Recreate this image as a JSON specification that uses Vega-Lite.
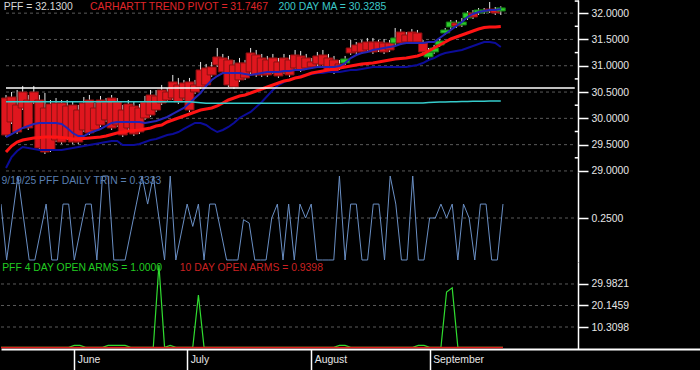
{
"$schema": "https://vega.github.io/schema/vega-lite/v6.json",
"background": "#000000",
"padding": 0,
"spacing": 0,
"bounds": "flush",
"config": {"view": {"stroke": null}, "axis": {"grid": false, "labelOverlap": false, "labelFlush": false, "domainColor": "#ffffff", "domainWidth": 1.5, "tickColor": "#ffffff", "tickWidth": 1.5, "labelColor": "#e6e6e6", "labelFont": "Liberation Sans", "labelFontSize": 10.4}},
"datasets": {"pff": [
{"i":0,"o":30.387,"h":30.444,"l":29.646,"c":29.684,"piv":29.36,"ma1":29.645,"ma2":29.056,"ma200":30.315,"trin":0.333,"a4":1,"a10":0.95},
{"i":1,"o":30.406,"h":30.501,"l":29.893,"c":29.931,"piv":29.474,"ma1":29.702,"ma2":29.265,"ma200":30.315,"trin":0,"a4":1,"a10":0.95},
{"i":2,"o":30.254,"h":30.539,"l":29.703,"c":29.741,"piv":29.55,"ma1":29.76,"ma2":29.379,"ma200":30.315,"trin":0.25,"a4":1,"a10":0.95},
{"i":3,"o":30.501,"h":30.616,"l":30.159,"c":30.197,"piv":29.588,"ma1":29.817,"ma2":29.455,"ma200":30.315,"trin":0.5,"a4":1,"a10":0.95},
{"i":4,"o":30.349,"h":30.444,"l":29.779,"c":29.817,"piv":29.607,"ma1":29.855,"ma2":29.436,"ma200":30.315,"trin":0.25,"a4":1,"a10":0.95},
{"i":5,"o":30.501,"h":30.616,"l":30.273,"c":30.311,"piv":29.626,"ma1":29.893,"ma2":29.417,"ma200":30.315,"trin":0,"a4":1,"a10":0.95},
{"i":6,"o":30.349,"h":30.444,"l":29.398,"c":29.436,"piv":29.636,"ma1":29.912,"ma2":29.398,"ma200":30.315,"trin":0,"a4":1,"a10":0.95},
{"i":7,"o":30.197,"h":30.482,"l":29.322,"c":29.36,"piv":29.645,"ma1":29.912,"ma2":29.398,"ma200":30.315,"trin":0.167,"a4":1,"a10":0.95},
{"i":8,"o":30.273,"h":30.349,"l":29.36,"c":29.398,"piv":29.645,"ma1":29.912,"ma2":29.398,"ma200":30.315,"trin":0.333,"a4":1,"a10":0.95},
{"i":9,"o":30.292,"h":30.387,"l":29.55,"c":29.588,"piv":29.645,"ma1":29.912,"ma2":29.398,"ma200":30.315,"trin":0,"a4":1,"a10":0.95},
{"i":10,"o":30.292,"h":30.349,"l":29.512,"c":29.55,"piv":29.636,"ma1":29.893,"ma2":29.398,"ma200":30.315,"trin":0,"a4":1,"a10":0.95},
{"i":11,"o":30.235,"h":30.349,"l":29.588,"c":29.626,"piv":29.626,"ma1":29.817,"ma2":29.417,"ma200":30.315,"trin":0.333,"a4":1,"a10":0.95},
{"i":12,"o":30.254,"h":30.311,"l":29.512,"c":29.55,"piv":29.607,"ma1":29.721,"ma2":29.436,"ma200":30.315,"trin":0.333,"a4":1,"a10":0.95},
{"i":13,"o":30.159,"h":30.254,"l":29.512,"c":29.55,"piv":29.607,"ma1":29.664,"ma2":29.455,"ma200":30.315,"trin":0,"a4":1.9,"a10":0.95},
{"i":14,"o":30.292,"h":30.406,"l":29.741,"c":29.779,"piv":29.617,"ma1":29.664,"ma2":29.474,"ma200":30.315,"trin":0.167,"a4":1.9,"a10":0.95},
{"i":15,"o":30.349,"h":30.444,"l":29.684,"c":29.722,"piv":29.626,"ma1":29.721,"ma2":29.493,"ma200":30.315,"trin":0.333,"a4":1,"a10":0.95},
{"i":16,"o":30.197,"h":30.292,"l":29.741,"c":29.779,"piv":29.636,"ma1":29.76,"ma2":29.512,"ma200":30.315,"trin":0.333,"a4":1,"a10":0.95},
{"i":17,"o":30.349,"h":30.425,"l":29.836,"c":29.874,"piv":29.645,"ma1":29.798,"ma2":29.531,"ma200":30.315,"trin":0,"a4":1,"a10":0.95},
{"i":18,"o":30.311,"h":30.387,"l":29.931,"c":29.969,"piv":29.664,"ma1":29.855,"ma2":29.55,"ma200":30.315,"trin":0.5,"a4":1,"a10":0.95},
{"i":19,"o":30.387,"h":30.444,"l":29.779,"c":29.817,"piv":29.693,"ma1":29.912,"ma2":29.569,"ma200":30.315,"trin":0.5,"a4":1.9,"a10":0.95},
{"i":20,"o":30.311,"h":30.387,"l":29.836,"c":29.874,"piv":29.721,"ma1":29.931,"ma2":29.569,"ma200":30.315,"trin":0,"a4":1.9,"a10":0.95},
{"i":21,"o":30.159,"h":30.254,"l":29.646,"c":29.684,"piv":29.74,"ma1":29.931,"ma2":29.493,"ma200":30.315,"trin":0,"a4":1.9,"a10":0.95},
{"i":22,"o":30.273,"h":30.349,"l":29.779,"c":29.817,"piv":29.76,"ma1":29.931,"ma2":29.493,"ma200":30.315,"trin":0,"a4":1.9,"a10":0.95},
{"i":23,"o":30.235,"h":30.33,"l":29.665,"c":29.703,"piv":29.769,"ma1":29.931,"ma2":29.493,"ma200":30.315,"trin":0.167,"a4":1,"a10":0.95},
{"i":24,"o":30.197,"h":30.273,"l":29.703,"c":29.741,"piv":29.779,"ma1":29.931,"ma2":29.512,"ma200":30.315,"trin":0.333,"a4":1,"a10":0.95},
{"i":25,"o":30.311,"h":30.425,"l":29.969,"c":30.007,"piv":29.798,"ma1":29.912,"ma2":29.55,"ma200":30.315,"trin":0.5,"a4":1,"a10":0.95},
{"i":26,"o":30.444,"h":30.539,"l":30.026,"c":30.064,"piv":29.817,"ma1":29.931,"ma2":29.588,"ma200":30.315,"trin":0.333,"a4":1,"a10":0.95},
{"i":27,"o":30.425,"h":30.539,"l":30.121,"c":30.159,"piv":29.855,"ma1":29.95,"ma2":29.607,"ma200":30.315,"trin":0.5,"a4":1,"a10":0.95},
{"i":28,"o":30.539,"h":30.635,"l":30.254,"c":30.292,"piv":29.874,"ma1":29.988,"ma2":29.645,"ma200":30.315,"trin":0.25,"a4":38.7,"a10":0.95},
{"i":29,"o":30.501,"h":30.578,"l":30.311,"c":30.349,"piv":29.931,"ma1":30.026,"ma2":29.683,"ma200":30.315,"trin":0,"a4":1,"a10":0.95},
{"i":30,"o":30.692,"h":30.825,"l":30.349,"c":30.387,"piv":29.969,"ma1":30.083,"ma2":29.702,"ma200":30.315,"trin":0.5,"a4":1.9,"a10":0.95},
{"i":31,"o":30.635,"h":30.768,"l":30.273,"c":30.311,"piv":30.007,"ma1":30.14,"ma2":29.74,"ma200":30.315,"trin":0,"a4":1,"a10":0.95},
{"i":32,"o":30.673,"h":30.73,"l":30.349,"c":30.387,"piv":30.045,"ma1":30.197,"ma2":29.798,"ma200":30.315,"trin":0.167,"a4":1,"a10":0.95},
{"i":33,"o":30.692,"h":30.768,"l":30.121,"c":30.159,"piv":30.083,"ma1":30.292,"ma2":29.855,"ma200":30.315,"trin":0.333,"a4":1,"a10":0.95},
{"i":34,"o":30.635,"h":30.73,"l":30.463,"c":30.501,"piv":30.121,"ma1":30.387,"ma2":29.912,"ma200":30.305,"trin":0.2,"a4":1,"a10":0.95},
{"i":35,"o":30.92,"h":31.072,"l":30.558,"c":30.597,"piv":30.159,"ma1":30.482,"ma2":29.912,"ma200":30.295,"trin":0.333,"a4":24.95,"a10":0.95},
{"i":36,"o":30.958,"h":31.034,"l":30.597,"c":30.635,"piv":30.178,"ma1":30.615,"ma2":29.874,"ma200":30.285,"trin":0,"a4":1,"a10":0.95},
{"i":37,"o":30.977,"h":31.072,"l":30.787,"c":30.825,"piv":30.197,"ma1":30.729,"ma2":29.798,"ma200":30.285,"trin":0.333,"a4":1,"a10":0.95},
{"i":38,"o":31.167,"h":31.338,"l":30.977,"c":31.015,"piv":30.235,"ma1":30.805,"ma2":29.74,"ma200":30.285,"trin":0.333,"a4":1,"a10":0.95},
{"i":39,"o":31.148,"h":31.224,"l":30.844,"c":30.882,"piv":30.292,"ma1":30.862,"ma2":29.779,"ma200":30.285,"trin":0.167,"a4":1,"a10":0.95},
{"i":40,"o":31.11,"h":31.186,"l":30.597,"c":30.635,"piv":30.349,"ma1":30.862,"ma2":29.836,"ma200":30.285,"trin":0,"a4":1,"a10":0.95},
{"i":41,"o":31.015,"h":31.11,"l":30.558,"c":30.597,"piv":30.387,"ma1":30.862,"ma2":29.912,"ma200":30.285,"trin":0,"a4":1,"a10":0.95},
{"i":42,"o":31.053,"h":31.148,"l":30.692,"c":30.73,"piv":30.425,"ma1":30.862,"ma2":30.007,"ma200":30.285,"trin":0,"a4":1,"a10":0.95},
{"i":43,"o":31.053,"h":31.11,"l":30.73,"c":30.768,"piv":30.444,"ma1":30.843,"ma2":30.064,"ma200":30.285,"trin":0.24,"a4":1,"a10":0.95},
{"i":44,"o":31.243,"h":31.338,"l":30.844,"c":30.882,"piv":30.482,"ma1":30.824,"ma2":30.121,"ma200":30.285,"trin":0.22,"a4":1,"a10":0.95},
{"i":45,"o":31.205,"h":31.3,"l":30.787,"c":30.825,"piv":30.52,"ma1":30.843,"ma2":30.216,"ma200":30.285,"trin":0,"a4":1,"a10":0.95},
{"i":46,"o":31.148,"h":31.224,"l":30.787,"c":30.825,"piv":30.558,"ma1":30.862,"ma2":30.311,"ma200":30.285,"trin":0,"a4":1,"a10":0.95},
{"i":47,"o":31.11,"h":31.186,"l":30.787,"c":30.825,"piv":30.596,"ma1":30.881,"ma2":30.425,"ma200":30.285,"trin":0,"a4":1,"a10":0.95},
{"i":48,"o":31.148,"h":31.224,"l":30.844,"c":30.882,"piv":30.634,"ma1":30.881,"ma2":30.539,"ma200":30.285,"trin":0.25,"a4":1,"a10":0.95},
{"i":49,"o":31.072,"h":31.148,"l":30.768,"c":30.806,"piv":30.672,"ma1":30.881,"ma2":30.634,"ma200":30.285,"trin":0.333,"a4":1,"a10":0.95},
{"i":50,"o":31.148,"h":31.224,"l":30.844,"c":30.882,"piv":30.71,"ma1":30.9,"ma2":30.691,"ma200":30.285,"trin":0,"a4":1,"a10":0.95},
{"i":51,"o":31.11,"h":31.205,"l":30.787,"c":30.825,"piv":30.729,"ma1":30.9,"ma2":30.729,"ma200":30.285,"trin":0.333,"a4":1,"a10":0.95},
{"i":52,"o":31.205,"h":31.3,"l":30.92,"c":30.958,"piv":30.767,"ma1":30.919,"ma2":30.767,"ma200":30.285,"trin":0,"a4":1,"a10":0.95},
{"i":53,"o":31.186,"h":31.281,"l":30.882,"c":30.92,"piv":30.786,"ma1":30.919,"ma2":30.805,"ma200":30.285,"trin":0.333,"a4":1,"a10":0.95},
{"i":54,"o":31.148,"h":31.224,"l":30.92,"c":30.958,"piv":30.824,"ma1":30.938,"ma2":30.824,"ma200":30.285,"trin":0.25,"a4":1,"a10":0.95},
{"i":55,"o":31.072,"h":31.148,"l":30.939,"c":30.977,"piv":30.862,"ma1":30.957,"ma2":30.843,"ma200":30.285,"trin":0.333,"a4":1,"a10":0.95},
{"i":56,"o":31.186,"h":31.262,"l":30.996,"c":31.034,"piv":30.881,"ma1":30.976,"ma2":30.862,"ma200":30.285,"trin":0,"a4":1,"a10":0.95},
{"i":57,"o":31.205,"h":31.3,"l":30.977,"c":31.015,"piv":30.9,"ma1":30.976,"ma2":30.862,"ma200":30.285,"trin":0,"a4":1,"a10":0.95},
{"i":58,"o":31.148,"h":31.224,"l":30.882,"c":30.92,"piv":30.919,"ma1":30.976,"ma2":30.881,"ma200":30.285,"trin":0,"a4":1,"a10":0.95},
{"i":59,"o":31.11,"h":31.186,"l":30.844,"c":30.882,"piv":30.938,"ma1":30.976,"ma2":30.881,"ma200":30.285,"trin":0,"a4":1,"a10":0.95},
{"i":60,"o":31.034,"h":31.11,"l":30.92,"c":30.958,"piv":30.957,"ma1":30.995,"ma2":30.881,"ma200":30.285,"trin":0.5,"a4":1.9,"a10":0.95},
{"i":61,"o":31.053,"h":31.186,"l":31.015,"c":31.129,"piv":30.976,"ma1":31.052,"ma2":30.9,"ma200":30.29,"trin":0,"a4":1.9,"a10":0.95},
{"i":62,"o":31.338,"h":31.49,"l":31.205,"c":31.243,"piv":30.995,"ma1":31.147,"ma2":30.919,"ma200":30.29,"trin":0.333,"a4":1,"a10":0.95},
{"i":63,"o":31.395,"h":31.452,"l":31.224,"c":31.262,"piv":31.014,"ma1":31.204,"ma2":30.919,"ma200":30.29,"trin":0.333,"a4":1,"a10":0.95},
{"i":64,"o":31.433,"h":31.49,"l":31.224,"c":31.262,"piv":31.033,"ma1":31.242,"ma2":30.938,"ma200":30.29,"trin":0,"a4":1,"a10":0.95},
{"i":65,"o":31.452,"h":31.528,"l":31.262,"c":31.3,"piv":31.043,"ma1":31.261,"ma2":30.957,"ma200":30.29,"trin":0,"a4":1,"a10":0.95},
{"i":66,"o":31.452,"h":31.528,"l":31.224,"c":31.262,"piv":31.052,"ma1":31.299,"ma2":30.976,"ma200":30.29,"trin":0.333,"a4":1,"a10":0.95},
{"i":67,"o":31.452,"h":31.49,"l":31.262,"c":31.3,"piv":31.071,"ma1":31.318,"ma2":30.976,"ma200":30.29,"trin":0.333,"a4":1,"a10":0.95},
{"i":68,"o":31.433,"h":31.509,"l":31.224,"c":31.262,"piv":31.09,"ma1":31.337,"ma2":30.976,"ma200":30.29,"trin":0,"a4":1,"a10":0.95},
{"i":69,"o":31.433,"h":31.49,"l":31.262,"c":31.3,"piv":31.109,"ma1":31.356,"ma2":30.976,"ma200":30.29,"trin":0.5,"a4":1,"a10":0.95},
{"i":70,"o":31.433,"h":31.718,"l":31.395,"c":31.528,"piv":31.128,"ma1":31.375,"ma2":30.976,"ma200":30.29,"trin":0.333,"a4":1,"a10":0.95},
{"i":71,"o":31.642,"h":31.699,"l":31.395,"c":31.433,"piv":31.138,"ma1":31.413,"ma2":30.976,"ma200":30.29,"trin":0,"a4":1,"a10":0.95},
{"i":72,"o":31.585,"h":31.642,"l":31.414,"c":31.452,"piv":31.147,"ma1":31.432,"ma2":30.976,"ma200":30.29,"trin":0,"a4":1,"a10":0.95},
{"i":73,"o":31.642,"h":31.699,"l":31.414,"c":31.452,"piv":31.166,"ma1":31.432,"ma2":30.995,"ma200":30.29,"trin":0.5,"a4":1,"a10":0.95},
{"i":74,"o":31.623,"h":31.68,"l":31.414,"c":31.452,"piv":31.185,"ma1":31.432,"ma2":31.014,"ma200":30.29,"trin":0,"a4":1.9,"a10":0.95},
{"i":75,"o":31.433,"h":31.49,"l":31.224,"c":31.262,"piv":31.223,"ma1":31.432,"ma2":31.052,"ma200":30.29,"trin":0,"a4":1.9,"a10":0.95},
{"i":76,"o":31.167,"h":31.338,"l":31.11,"c":31.262,"piv":31.28,"ma1":31.452,"ma2":31.109,"ma200":30.3,"trin":0.25,"a4":1,"a10":0.95},
{"i":77,"o":31.262,"h":31.395,"l":31.224,"c":31.338,"piv":31.337,"ma1":31.452,"ma2":31.147,"ma200":30.305,"trin":0.25,"a4":1,"a10":0.95},
{"i":78,"o":31.395,"h":31.528,"l":31.357,"c":31.471,"piv":31.394,"ma1":31.528,"ma2":31.204,"ma200":30.31,"trin":0.333,"a4":1,"a10":0.95},
{"i":79,"o":31.623,"h":31.718,"l":31.585,"c":31.68,"piv":31.452,"ma1":31.604,"ma2":31.242,"ma200":30.31,"trin":0.25,"a4":26.3,"a10":0.95},
{"i":80,"o":31.737,"h":31.87,"l":31.699,"c":31.832,"piv":31.509,"ma1":31.68,"ma2":31.261,"ma200":30.315,"trin":0.333,"a4":28.2,"a10":0.95},
{"i":81,"o":31.813,"h":31.87,"l":31.718,"c":31.756,"piv":31.547,"ma1":31.756,"ma2":31.28,"ma200":30.315,"trin":0,"a4":1,"a10":0.95},
{"i":82,"o":31.775,"h":31.908,"l":31.737,"c":31.832,"piv":31.585,"ma1":31.832,"ma2":31.299,"ma200":30.32,"trin":0.333,"a4":1,"a10":0.95},
{"i":83,"o":31.908,"h":32.041,"l":31.87,"c":32.003,"piv":31.623,"ma1":31.927,"ma2":31.337,"ma200":30.32,"trin":0.25,"a4":1,"a10":0.95},
{"i":84,"o":32.003,"h":32.06,"l":31.889,"c":31.927,"piv":31.661,"ma1":31.984,"ma2":31.375,"ma200":30.325,"trin":0,"a4":1,"a10":0.95},
{"i":85,"o":32.003,"h":32.098,"l":31.965,"c":32.06,"piv":31.699,"ma1":32.022,"ma2":31.413,"ma200":30.325,"trin":0.333,"a4":1,"a10":0.95},
{"i":86,"o":32.022,"h":32.098,"l":31.984,"c":32.06,"piv":31.727,"ma1":32.041,"ma2":31.452,"ma200":30.327,"trin":0.333,"a4":1,"a10":0.95},
{"i":87,"o":32.079,"h":32.212,"l":32.003,"c":32.041,"piv":31.737,"ma1":32.06,"ma2":31.452,"ma200":30.328,"trin":0,"a4":1,"a10":0.95},
{"i":88,"o":32.06,"h":32.117,"l":31.965,"c":32.003,"piv":31.737,"ma1":32.06,"ma2":31.432,"ma200":30.328,"trin":0,"a4":1,"a10":0.95},
{"i":89,"o":32.041,"h":32.13,"l":31.965,"c":32.1,"piv":31.7467,"ma1":32.079,"ma2":31.356,"ma200":30.3285,"trin":0.3333,"a4":1,"a10":0.9398}
]},
"data": {"name": "pff"},
"vconcat": [
{
 "width": 700, "height": 172,
 "layer": [
  {"data": {"values": [{"g":29},{"g":29.5},{"g":30},{"g":30.5},{"g":31},{"g":31.5},{"g":32}]},
   "mark": {"type": "rule", "color": "#5a5a5a", "strokeDash": [3,3], "strokeWidth": 1},
   "encoding": {
    "x": {"datum": 0, "type": "quantitative", "scale": {"domain": [0,124.11], "nice": false, "zero": false}, "axis": null},
    "x2": {"datum": 102.3},
    "y": {"field": "g", "type": "quantitative", "scale": {"domain": [28.98,32.25], "nice": false, "zero": false},
      "axis": {"orient": "right", "offset": -123, "title": null, "values": [29,29.5,30,30.5,31,31.5,32], "tickCount": 7,
        "labelExpr": "format(datum.value,'.4f')", "tickSize": 10,
        "labelPadding": 3, "labelFlush": false, "labelOverlap": false, "grid": false}}
   }},
  {"data": {"values": [{"m":29.25},{"m":29.75},{"m":30.25},{"m":30.75},{"m":31.25},{"m":31.75},{"m":32.23}]},
   "mark": {"type": "rule", "color": "#ffffff", "strokeWidth": 1.5, "clip": true},
   "encoding": {
    "x": {"datum": 102.3, "type": "quantitative", "scale": {"domain": [0,124.11], "nice": false, "zero": false}, "axis": null},
    "x2": {"datum": 103.05},
    "y": {"field": "m", "type": "quantitative", "scale": {"domain": [28.98,32.25], "nice": false, "zero": false}}
   }},
  {"mark": {"type": "rule", "color": "#e8e8e8", "strokeWidth": 1, "clip": true},
   "encoding": {
    "x": {"field": "i", "type": "quantitative", "scale": {"domain": [0,124.11], "nice": false, "zero": false}, "axis": null},
    "y": {"field": "l", "type": "quantitative", "scale": {"domain": [28.98,32.25], "nice": false, "zero": false}},
    "y2": {"field": "h"}
   }},
  {"mark": {"type": "bar", "size": 9, "strokeWidth": 1, "clip": true},
   "encoding": {
    "x": {"field": "i", "type": "quantitative", "scale": {"domain": [0,124.11], "nice": false, "zero": false}, "axis": null},
    "y": {"field": "o", "type": "quantitative", "scale": {"domain": [28.98,32.25], "nice": false, "zero": false}},
    "y2": {"field": "c"},
    "fill": {"condition": {"test": "datum.c > datum.o", "value": "#2ccc2c"}, "value": "#e0161e"},
    "stroke": {"condition": {"test": "datum.c > datum.o", "value": "#137a13"}, "value": "#8a1212"}
   }},
  {"mark": {"type": "line", "color": "#0c0c98", "strokeWidth": 2, "clip": true},
   "encoding": {
    "x": {"field": "i", "type": "quantitative", "scale": {"domain": [0,124.11], "nice": false, "zero": false}, "axis": null},
    "y": {"field": "ma2", "type": "quantitative", "scale": {"domain": [28.98,32.25], "nice": false, "zero": false}}
   }},
  {"mark": {"type": "line", "color": "#ff1414", "strokeWidth": 3, "clip": true},
   "encoding": {
    "x": {"field": "i", "type": "quantitative", "scale": {"domain": [0,124.11], "nice": false, "zero": false}, "axis": null},
    "y": {"field": "piv", "type": "quantitative", "scale": {"domain": [28.98,32.25], "nice": false, "zero": false}}
   }},
  {"mark": {"type": "line", "color": "#2424b4", "strokeWidth": 2, "clip": true},
   "encoding": {
    "x": {"field": "i", "type": "quantitative", "scale": {"domain": [0,124.11], "nice": false, "zero": false}, "axis": null},
    "y": {"field": "ma1", "type": "quantitative", "scale": {"domain": [28.98,32.25], "nice": false, "zero": false}}
   }},
  {"mark": {"type": "line", "color": "#36cccc", "strokeWidth": 1.5, "clip": true},
   "encoding": {
    "x": {"field": "i", "type": "quantitative", "scale": {"domain": [0,124.11], "nice": false, "zero": false}, "axis": null},
    "y": {"field": "ma200", "type": "quantitative", "scale": {"domain": [28.98,32.25], "nice": false, "zero": false}}
   }},
  {"data": {"values": [{}]},
   "mark": {"type": "rule", "color": "#ffffff", "strokeWidth": 1.5, "clip": true},
   "encoding": {
    "x": {"datum": 0, "type": "quantitative", "scale": {"domain": [0,124.11], "nice": false, "zero": false}, "axis": null},
    "x2": {"datum": 102.3},
    "y": {"datum": 30.575, "type": "quantitative", "scale": {"domain": [28.98,32.25], "nice": false, "zero": false}}
   }},
  {"data": {"values": [{}]},
   "mark": {"type": "text", "text": "PFF = 32.1300", "align": "left", "baseline": "middle", "color": "#d8d8d8", "font": "Liberation Sans", "fontSize": 10.4},
   "encoding": {
    "x": {"datum": -0.4, "type": "quantitative", "scale": {"domain": [0,124.11], "nice": false, "zero": false}, "axis": null},
    "y": {"datum": 32.126, "type": "quantitative", "scale": {"domain": [28.98,32.25], "nice": false, "zero": false}}
   }},
  {"data": {"values": [{}]},
   "mark": {"type": "text", "text": "CARHARTT TREND PIVOT = 31.7467", "align": "left", "baseline": "middle", "color": "#e0262a", "font": "Liberation Sans", "fontSize": 10.4},
   "encoding": {
    "x": {"datum": 15.1, "type": "quantitative", "scale": {"domain": [0,124.11], "nice": false, "zero": false}, "axis": null},
    "y": {"datum": 32.126, "type": "quantitative", "scale": {"domain": [28.98,32.25], "nice": false, "zero": false}}
   }},
  {"data": {"values": [{}]},
   "mark": {"type": "text", "text": "200 DAY MA = 30.3285", "align": "left", "baseline": "middle", "color": "#3cc8c8", "font": "Liberation Sans", "fontSize": 10.4},
   "encoding": {
    "x": {"datum": 49.0, "type": "quantitative", "scale": {"domain": [0,124.11], "nice": false, "zero": false}, "axis": null},
    "y": {"datum": 32.126, "type": "quantitative", "scale": {"domain": [28.98,32.25], "nice": false, "zero": false}}
   }}
 ]
},
{
 "width": 700, "height": 90,
 "layer": [
  {"data": {"values": [{"g":0.25}]},
   "mark": {"type": "rule", "color": "#5a5a5a", "strokeDash": [3,3], "strokeWidth": 1},
   "encoding": {
    "x": {"datum": 0, "type": "quantitative", "scale": {"domain": [0,124.11], "nice": false, "zero": false}, "axis": null},
    "x2": {"datum": 102.3},
    "y": {"field": "g", "type": "quantitative", "scale": {"domain": [-0.012,0.524], "nice": false, "zero": false},
      "axis": {"orient": "right", "offset": -123, "title": null, "values": [0.25], "labelExpr": "format(datum.value,'.4f')", "tickSize": 10, "labelPadding": 3, "labelFlush": false, "labelOverlap": false, "grid": false}}
   }},
  {"mark": {"type": "line", "color": "#6a8fc4", "strokeWidth": 1, "clip": true},
   "encoding": {
    "x": {"field": "i", "type": "quantitative", "scale": {"domain": [0,124.11], "nice": false, "zero": false}, "axis": null},
    "y": {"field": "trin", "type": "quantitative", "scale": {"domain": [-0.012,0.524], "nice": false, "zero": false}}
   }},
  {"data": {"values": [{}]},
   "mark": {"type": "text", "text": "9/19/25  PFF DAILY TRIN = 0.3333", "align": "left", "baseline": "middle", "color": "#5a7fb0", "font": "Liberation Sans", "fontSize": 10.4},
   "encoding": {
    "x": {"datum": 0.1, "type": "quantitative", "scale": {"domain": [0,124.11], "nice": false, "zero": false}, "axis": null},
    "y": {"datum": 0.4675, "type": "quantitative", "scale": {"domain": [-0.012,0.524], "nice": false, "zero": false}}
   }}
 ]
},
{
 "width": 700, "height": 87,
 "layer": [
  {"data": {"values": [{"g":10.3098},{"g":20.1459},{"g":29.9821}]},
   "mark": {"type": "rule", "color": "#5a5a5a", "strokeDash": [3,3], "strokeWidth": 1},
   "encoding": {
    "x": {"datum": 0, "type": "quantitative", "scale": {"domain": [0,124.11], "nice": false, "zero": false}},
    "x2": {"datum": 102.3},
    "y": {"field": "g", "type": "quantitative", "scale": {"domain": [0.25,40.04], "nice": false, "zero": false},
      "axis": {"orient": "right", "offset": -123, "title": null, "values": [10.3098,15.22785,20.1459,25.064,29.9821],
        "labelExpr": "(abs(datum.value-15.22785)<0.01 || abs(datum.value-25.064)<0.01) ? '' : format(datum.value,'.4f')",
        "tickSize": {"condition": {"test": "abs(datum.value-15.22785)<0.01 || abs(datum.value-25.064)<0.01", "value": 4}, "value": 10},
        "labelPadding": 3, "labelFlush": false, "labelOverlap": false, "grid": false}}
   }},
  {"mark": {"type": "line", "color": "#30dc30", "strokeWidth": 1.2, "clip": true},
   "encoding": {
    "x": {"field": "i", "type": "quantitative", "scale": {"domain": [0,124.11], "nice": false, "zero": false},
      "axis": {"orient": "bottom", "title": null, "values": [13,33,55,76],
        "labelExpr": "datum.value==13 ? 'June' : datum.value==33 ? 'July' : datum.value==55 ? 'August' : 'September'",
        "tickSize": 21, "tickWidth": 1.5, "domainWidth": 2, "labelAlign": "left", "labelOffset": 3, "labelPadding": -16, "labelBaseline": "top", "labelFlush": false, "labelOverlap": false, "grid": false}},
    "y": {"field": "a4", "type": "quantitative", "scale": {"domain": [0.25,40.04], "nice": false, "zero": false}}
   }},
  {"mark": {"type": "line", "color": "#e01c1c", "strokeWidth": 1.5, "clip": true},
   "encoding": {
    "x": {"field": "i", "type": "quantitative", "scale": {"domain": [0,124.11], "nice": false, "zero": false}},
    "y": {"field": "a10", "type": "quantitative", "scale": {"domain": [0.25,40.04], "nice": false, "zero": false}}
   }},
  {"data": {"values": [{}]},
   "mark": {"type": "text", "text": "PFF 4 DAY OPEN ARMS = 1.0000", "align": "left", "baseline": "middle", "color": "#22cc22", "font": "Liberation Sans", "fontSize": 10.4},
   "encoding": {
    "x": {"datum": 0.2, "type": "quantitative", "scale": {"domain": [0,124.11], "nice": false, "zero": false}},
    "y": {"datum": 37.3, "type": "quantitative", "scale": {"domain": [0.25,40.04], "nice": false, "zero": false}}
   }},
  {"data": {"values": [{}]},
   "mark": {"type": "text", "text": "10 DAY OPEN ARMS = 0.9398", "align": "left", "baseline": "middle", "color": "#cc2222", "font": "Liberation Sans", "fontSize": 10.4},
   "encoding": {
    "x": {"datum": 31.7, "type": "quantitative", "scale": {"domain": [0,124.11], "nice": false, "zero": false}},
    "y": {"datum": 37.3, "type": "quantitative", "scale": {"domain": [0.25,40.04], "nice": false, "zero": false}}
   }}
 ]
}
]
}
